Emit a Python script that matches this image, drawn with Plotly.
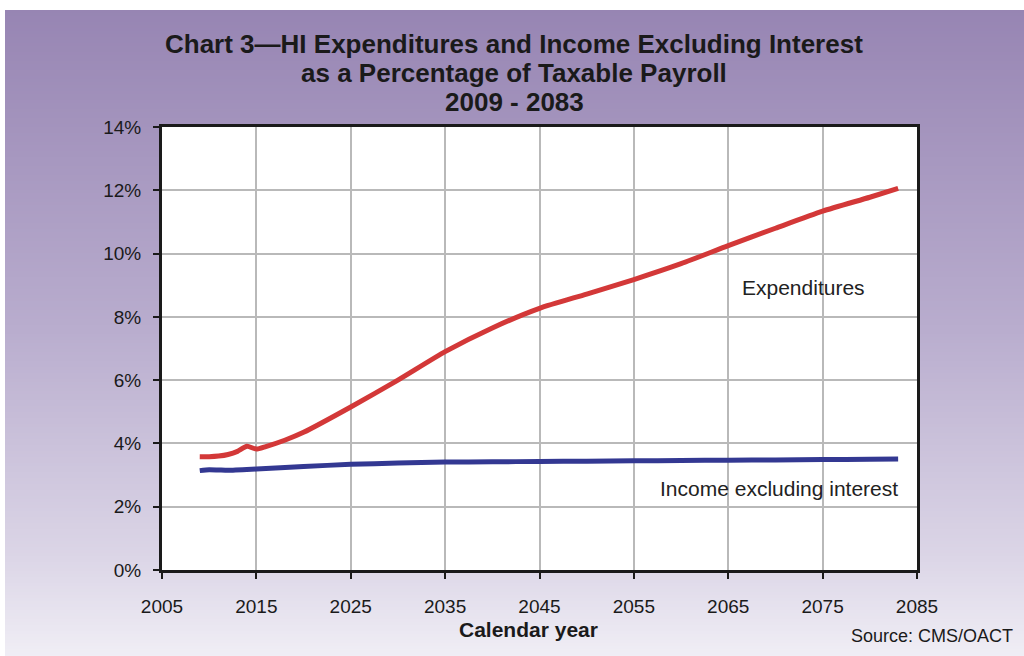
import plotly.graph_objects as go

# --- data -----------------------------------------------------------------
exp_years = [2009, 2010, 2011, 2012, 2013, 2014, 2015, 2016, 2018, 2020, 2025,
             2030, 2035, 2040, 2045, 2050, 2055, 2060, 2065, 2070, 2075, 2080, 2083]
expenditures = [3.58, 3.58, 3.60, 3.65, 3.75, 3.91, 3.82, 3.90, 4.10, 4.35, 5.15,
                6.00, 6.90, 7.65, 8.27, 8.72, 9.18, 9.68, 10.25, 10.80, 11.34, 11.78, 12.06]

inc_years = [2009, 2010, 2011, 2012, 2015, 2020, 2025, 2030, 2035, 2040, 2045,
             2050, 2055, 2060, 2065, 2070, 2075, 2080, 2083]
income = [3.14, 3.17, 3.16, 3.15, 3.19, 3.27, 3.34, 3.38, 3.41, 3.42, 3.43,
          3.44, 3.45, 3.46, 3.47, 3.48, 3.49, 3.50, 3.51]

x_ticks = [2005, 2015, 2025, 2035, 2045, 2055, 2065, 2075, 2085]
y_ticks = [0, 2, 4, 6, 8, 10, 12, 14]
y_tick_text = [f"{v}%" for v in y_ticks]

title_lines = ["Chart 3\u2014HI Expenditures and Income Excluding Interest",
               "as a Percentage of Taxable Payroll",
               "2009 - 2083"]

# --- page geometry (pixels) ----------------------------------------------
W, H = 1024, 656
L, R, T, B = 162, 917, 127, 570


def px_x(p):
    return (p - L) / (R - L)


def px_y(p):
    return (B - p) / (B - T)


RED = "rgb(211,56,56)"
BLUE = "rgb(51,56,146)"
FONT = "Liberation Sans, Arial, sans-serif"

fig = go.Figure()
fig.add_trace(go.Scatter(x=exp_years, y=expenditures, mode="lines",
                         line=dict(color=RED, width=5, shape="spline", smoothing=0.6),
                         hoverinfo="skip"))
fig.add_trace(go.Scatter(x=inc_years, y=income, mode="lines",
                         line=dict(color=BLUE, width=5, shape="spline", smoothing=0.6),
                         hoverinfo="skip"))

# lavender backdrop fading downward
stops = [(10, (151, 133, 179)), (330, (185, 173, 206)), (560, (220, 214, 231)), (656, (240, 238, 245))]


def shade(py):
    for (a, ca), (b, cb) in zip(stops, stops[1:]):
        if py <= b:
            t = (py - a) / (b - a)
            return tuple(round(ca[i] + (cb[i] - ca[i]) * t) for i in range(3))
    return stops[-1][1]


shapes = []
step = 3
for py in range(10, H, step):
    c = shade(py + step / 2)
    shapes.append(dict(type="rect", xref="paper", yref="paper", layer="below",
                       x0=px_x(5), x1=px_x(W + 2), y0=px_y(py + step + 0.5), y1=px_y(py),
                       line=dict(width=0), fillcolor=f"rgb{c}"))
shapes.append(dict(type="rect", xref="paper", yref="paper", layer="below",
                   x0=0, x1=1, y0=0, y1=1, line=dict(width=0), fillcolor="white"))

annotations = []
for i, line in enumerate(title_lines):
    annotations.append(dict(text=f"<b>{line}</b>", xref="paper", yref="paper",
                            x=px_x(514), y=px_y(44 + 29 * i), showarrow=False,
                            xanchor="center", yanchor="middle",
                            font=dict(family=FONT, size=26, color="#1a1a1a")))
annotations += [
    dict(text="Expenditures", x=2073, y=8.94, xref="x", yref="y", showarrow=False,
         xanchor="center", yanchor="middle",
         font=dict(family=FONT, size=21, color="#222")),
    dict(text="Income excluding interest", x=2057.6, y=2.59, xref="x", yref="y",
         showarrow=False, xanchor="left", yanchor="middle",
         font=dict(family=FONT, size=21, color="#222")),
    dict(text="<b>Calendar year</b>", xref="paper", yref="paper",
         x=px_x(528), y=px_y(629), showarrow=False, xanchor="center", yanchor="middle",
         font=dict(family=FONT, size=21, color="#1a1a1a")),
    dict(text="Source: CMS/OACT", xref="paper", yref="paper",
         x=px_x(1015), y=px_y(636), showarrow=False, xanchor="right", yanchor="middle",
         font=dict(family=FONT, size=18, color="#1a1a1a")),
]

axis_common = dict(showline=True, linecolor="#1a1a1a", linewidth=3, mirror=True,
                   ticks="outside", ticklen=6, tickwidth=2, tickcolor="#1a1a1a",
                   showgrid=True, gridcolor="rgb(185,185,185)", gridwidth=2,
                   zeroline=False, tickfont=dict(family=FONT, size=19, color="#1a1a1a"))

fig.update_layout(
    width=W, height=H,
    margin=dict(l=L, r=W - R, t=T, b=H - B),
    paper_bgcolor="white", plot_bgcolor="white",
    showlegend=False,
    shapes=shapes, annotations=annotations,
    xaxis=dict(range=[2005, 2085], tickvals=x_ticks, ticklabelstandoff=11, **axis_common),
    yaxis=dict(range=[0, 14], tickvals=y_ticks, ticktext=y_tick_text,
               ticklabelstandoff=8, **axis_common),
)

fig.write_html("out.html")
